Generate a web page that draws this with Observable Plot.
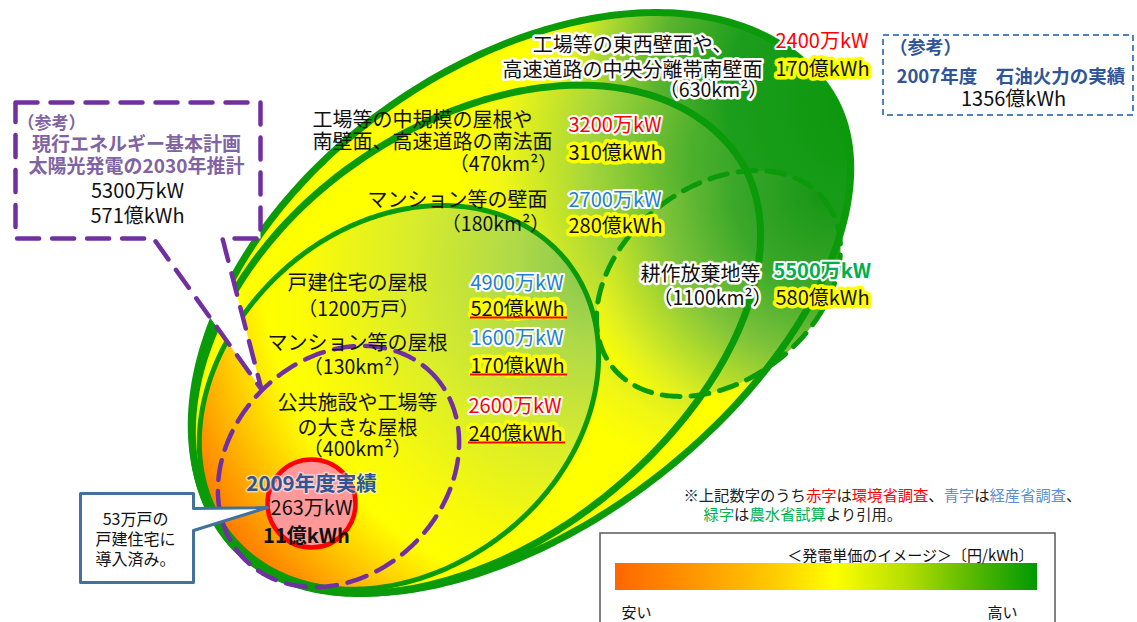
<!DOCTYPE html>
<html><head><meta charset="utf-8">
<script src="https://cdn.jsdelivr.net/npm/d3@7"></script>
<script src="https://cdn.jsdelivr.net/npm/@observablehq/plot@0.6"></script>
<style>html,body{margin:0;padding:0;background:#fff;overflow:hidden}</style>
</head><body><div id="chart"></div>
<script>
// ---------------- data ----------------
const categories = [
  "工場等の東西壁面や、\n高速道路の中央分離帯南壁面",
  "工場等の中規模の屋根や\n南壁面、高速道路の南法面",
  "マンション等の壁面",
  "戸建住宅の屋根",
  "マンション等の屋根",
  "公共施設や工場等\nの大きな屋根",
  "耕作放棄地等"
];
const scaleLabels = ["（630km²）", "（470km²）", "（180km²）", "（1200万戸）", "（130km²）", "（400km²）", "（1100km²）"];
const capacityManKW = [2400, 3200, 2700, 4900, 1600, 2600, 5500];
const energyOkuKWh = [170, 310, 280, 520, 170, 240, 580];
const sources = ["環境省", "環境省", "経産省", "経産省", "経産省", "環境省", "農水省"];
const underlined = [false, false, false, true, true, true, false];

const actualTitle = "2009年度実績";
const actualCapacityManKW = 263;
const actualEnergyOkuKWh = 11;
const actualHouseholdsMan = 53;
const planTitle = ["（参考）", "現行エネルギー基本計画", "太陽光発電の2030年推計"];
const planCapacityManKW = 5300;
const planEnergyOkuKWh = 571;
const oilTitle = ["（参考）", "2007年度　石油火力の実績"];
const oilEnergyOkuKWh = 1356;
const noteLine1 = [["※上記数字のうち", "k"], ["赤字", "r"], ["は", "k"], ["環境省調査", "r"], ["、", "k"], ["青字", "b"], ["は", "k"], ["経産省調査", "b"], ["、", "k"]];
const noteLine2 = [["緑字", "g"], ["は", "k"], ["農水省試算", "g"], ["より引用。", "k"]];
const legendTitle = "＜発電単価のイメージ＞〔円/kWh〕";
const legendLow = "安い", legendHigh = "高い";

// ---------------- layout / style ----------------
const W = 1137, H = 622;
const FONT = "'Noto Sans CJK JP', sans-serif";
const sourceColor = {"環境省": "#ff0000", "経産省": "#1f7fd0", "農水省": "#00b050"};
const noteColor = {k: "#222", r: "#ff0000", b: "#5b8fd0", g: "#00b050"};
const GREEN = "#0a9a0a";

const shapes = {
  A: {cx: 521, cy: 313, angle: -37, aPos: 380, aNeg: 370, bPos: 212, bNeg: 245},
  B: {cx: 474, cy: 348, angle: -37, aPos: 326, aNeg: 312, bPos: 197, bNeg: 220},
  C: {cx: 401, cy: 395, angle: -40, aPos: 213, aNeg: 221, bPos: 172, bNeg: 172},
  D: {cx: 718, cy: 283, angle: -38, aPos: 135, aNeg: 135, bPos: 97, bNeg: 97},
  E: {cx: 338, cy: 466, angle: -45, aPos: 132, aNeg: 132, bPos: 108, bNeg: 108}
};
const catLayout = [
  {name: [632, 55.5, "middle", 1.25, true], area: [713, 89], kw: [775, 40], kwh: [775, 68]},
  {name: [312, 130.5, "start", 1.1, false], area: [503, 163], kw: [568, 124], kwh: [568, 152]},
  {name: [547, 199, "end", 1.2, false], area: [495, 223], kw: [568, 199], kwh: [568, 225]},
  {name: [357, 282, "middle", 1.2, false], area: [358, 308], kw: [470, 282], kwh: [470, 308]},
  {name: [357, 342, "middle", 1.2, false], area: [357, 366], kw: [470, 337], kwh: [470, 365]},
  {name: [357, 413.5, "middle", 1.25, false], area: [357, 448], kw: [468, 405], kwh: [468, 433]},
  {name: [700, 273, "middle", 1.2, true], area: [712, 297], kw: [773, 270], kwh: [775, 297]}
];
const purpleCallout = [[15,102],[260,102],[260,238],[222,238],[261,389],[153,238],[15,238]];
const blueCallout = [[80,493],[193,493],[193,508],[267,507],[193,530],[193,582],[80,582]];
const redCircle = {x: 311, y: 503, r: 44};

function outline(s, n = 360) {
  const th = s.angle * Math.PI / 180, ux = Math.cos(th), uy = Math.sin(th), nx = -uy, ny = ux;
  return d3.range(n).map(i => {
    const t = 2 * Math.PI * i / n, c = Math.cos(t), sn = Math.sin(t);
    const al = c * (c >= 0 ? s.aPos : s.aNeg), no = sn * (sn >= 0 ? s.bPos : s.bNeg);
    return {x: s.cx + al * ux + no * nx, y: s.cy + al * uy + no * ny};
  });
}
const poly = pts => pts.map(([x, y]) => ({x, y}));

// ---------------- texts ----------------
const texts = [];
const T = (text, x, y, o = {}) => texts.push({text, x, y, size: 20, fill: "#111", anchor: "middle", weight: "normal", halo: "none", hw: 0, lh: 1.2, ...o});

categories.forEach((name, i) => {
  const L = catLayout[i];
  const glow = L.name[4];
  T(name, L.name[0], L.name[1], {anchor: L.name[2], lh: L.name[3], size: 20, halo: glow ? "#ffffff" : "none", hw: glow ? 5 : 0});
  T(scaleLabels[i], L.area[0], L.area[1], {size: 19.5, halo: glow ? "#ffffff" : "none", hw: glow ? 5 : 0});
  T(`${capacityManKW[i]}万kW`, L.kw[0], L.kw[1], {anchor: "start", fill: sourceColor[sources[i]], weight: sources[i] === "農水省" ? "bold" : "normal", halo: "#ffffff", hw: 4});
  T(`${energyOkuKWh[i]}億kWh`, L.kwh[0], L.kwh[1], {anchor: "start", halo: "#ffff00", hw: 7});
});
T(actualTitle, redCircle.x, 483, {size: 20.5, weight: "bold", fill: "#2f5597", halo: "rgba(255,255,255,0.5)", hw: 3});
T(`${actualCapacityManKW}万kW`, redCircle.x, 507, {size: 20});
T(`${actualEnergyOkuKWh}億kWh`, 306, 535, {size: 20, weight: "bold"});
T(`${actualHouseholdsMan}万戸の\n戸建住宅に\n導入済み。`, 135, 538, {size: 16, lh: 1.25});
T(planTitle[0], 17, 122, {anchor: "start", size: 17, weight: "bold", fill: "#8064a2"});
T(planTitle[1], 136, 143, {size: 19, weight: "bold", fill: "#8064a2"});
T(planTitle[2], 136, 165, {size: 19, weight: "bold", fill: "#8064a2"});
T(`${planCapacityManKW}万kW`, 137, 190, {size: 20});
T(`${planEnergyOkuKWh}億kWh`, 137, 215, {size: 20});
T(oilTitle[0], 889, 47, {anchor: "start", size: 18, weight: "bold", fill: "#2f5597"});
T(oilTitle[1], 896, 75, {anchor: "start", size: 18.5, weight: "bold", fill: "#2f5597"});
T(`${oilEnergyOkuKWh}億kWh`, 1013, 98, {size: 20});
const NS = 15.3;
const noteText1 = noteLine1.map(d => d[0]).join("");
const noteText2 = noteLine2.map(d => d[0]).join("");
T(noteText1, 683, 495, {anchor: "start", size: NS, fill: noteColor.k});
T(noteText2, 703, 514, {anchor: "start", size: NS, fill: noteColor.k});
T(legendTitle, 1033, 555, {anchor: "end", size: 15});
T(legendLow, 621, 612, {anchor: "start", size: 15});
T(legendHigh, 987, 612, {anchor: "start", size: 15});

const underlines = categories.map((_, i) => i).filter(i => underlined[i])
  .map(i => ({x1: catLayout[i].kwh[0], x2: catLayout[i].kwh[0] + 97, y: catLayout[i].kwh[1] + 9}));

// ---------------- plot ----------------
const fillMark = (s, fill) => Plot.line(outline(s), {x: "x", y: "y", curve: "linear-closed", fill, stroke: "none"});
const strokeMark = (s, stroke, w, dash) => Plot.line(outline(s), {x: "x", y: "y", curve: "linear-closed", fill: "none", stroke, strokeWidth: w, strokeDasharray: dash});

const chart = Plot.plot({
  width: W, height: H, margin: 0,
  x: {domain: [0, W], range: [0, W], axis: null},
  y: {domain: [0, H], range: [0, H], axis: null},
  style: {background: "#fff", fontFamily: FONT},
  marks: [
    fillMark(shapes.A, "url(#gradA)"),
    fillMark(shapes.B, "url(#gradB)"),
    fillMark(shapes.C, "url(#gradC)"),
    fillMark(shapes.D, "url(#gradD)"),
    strokeMark(shapes.A, GREEN, 7),
    strokeMark(shapes.B, GREEN, 7),
    strokeMark(shapes.C, GREEN, 5),
    strokeMark(shapes.D, GREEN, 5, "18,11"),
    strokeMark(shapes.E, "#7030a0", 4.5, "20,11"),
    Plot.dot([redCircle], {x: "x", y: "y", r: redCircle.r, fill: "#ff9999", stroke: "#ff0000", strokeWidth: 4.5}),
    Plot.line(poly(purpleCallout), {x: "x", y: "y", curve: "linear-closed", fill: "#fff", stroke: "#7030a0", strokeWidth: 4.5, strokeDasharray: "22,13"}),
    Plot.line(poly(blueCallout), {x: "x", y: "y", curve: "linear-closed", fill: "#fff", stroke: "#41719c", strokeWidth: 3}),
    Plot.rect([{x1: 883, x2: 1133, y1: 35, y2: 115}], {x1: "x1", x2: "x2", y1: "y1", y2: "y2", fill: "none", stroke: "#4f81bd", strokeWidth: 2, strokeDasharray: "6,4"}),
    Plot.rect([{x1: 600, x2: 1055, y1: 533, y2: 640}], {x1: "x1", x2: "x2", y1: "y1", y2: "y2", fill: "#fff", stroke: "#595959", strokeWidth: 1.5}),
    Plot.rect([{x1: 615, x2: 1037, y1: 563, y2: 590}], {x1: "x1", x2: "x2", y1: "y1", y2: "y2", fill: "url(#gradLegend)"}),
    ...texts.map(d => Plot.text([d], {
      x: "x", y: "y", text: "text", fill: d.fill, fontSize: d.size, fontWeight: d.weight,
      textAnchor: d.anchor, lineHeight: d.lh, fontFamily: FONT,
      stroke: d.halo, strokeWidth: d.hw, strokeLinejoin: "round"
    })),
    Plot.ruleY(underlines, {y: "y", x1: "x1", x2: "x2", stroke: "#ff0000", strokeWidth: 2})
  ]
});
document.getElementById("chart").appendChild(chart);

// colour the note segments inside their single text element
[[noteText1, noteLine1], [noteText2, noteLine2]].forEach(([full, segs]) => {
  d3.select(chart).selectAll("text").filter(function() { return this.textContent === full; }).each(function() {
    const t = d3.select(this);
    t.text(null);
    segs.forEach(([s, c]) => t.append("tspan").attr("fill", noteColor[c]).text(s));
  });
});

// gradients
const defs = d3.select(chart).insert("defs", ":first-child");
function radial(id, cx, cy, r, stops) {
  const g = defs.append("radialGradient").attr("id", id).attr("gradientUnits", "userSpaceOnUse")
    .attr("cx", cx).attr("cy", cy).attr("r", r);
  stops.forEach(([o, c]) => g.append("stop").attr("offset", o).attr("stop-color", c));
}
radial("gradA", 870, 100, 720, [[0, "#0a960a"], [0.2, "#1c9e1c"], [0.3, "#5cb42e"], [0.38, "#b0da30"], [0.43, "#f0f610"], [0.47, "#ffff00"], [0.88, "#ffff00"], [1, "#ffb000"]]);
radial("gradB", 790, 160, 720, [[0, "#1f9d1f"], [0.14, "#4db02d"], [0.28, "#a5d63a"], [0.4, "#f0f615"], [0.46, "#ffff00"], [0.88, "#ffff00"], [1, "#ffb000"]]);
radial("gradC", 600, 260, 490, [[0, "#80c450"], [0.18, "#b0da48"], [0.41, "#dcee28"], [0.59, "#fafa08"], [0.69, "#ffff00"], [0.78, "#ffd000"], [0.88, "#ff9900"], [1, "#ff5a00"]]);
radial("gradD", 830, 190, 290, [[0, "#149414"], [0.34, "#3ca82a"], [0.59, "#80c43a"], [0.86, "#e0f020"], [0.97, "#ffff00"], [1, "#ffff00"]]);
const lg = defs.append("linearGradient").attr("id", "gradLegend");
[[0, "#ff6600"], [0.2, "#ff9a00"], [0.38, "#ffcc00"], [0.52, "#ffff00"], [0.7, "#b0dc00"], [0.85, "#55b800"], [1, "#009900"]]
  .forEach(([o, c]) => lg.append("stop").attr("offset", o).attr("stop-color", c));
</script>
</body></html>
